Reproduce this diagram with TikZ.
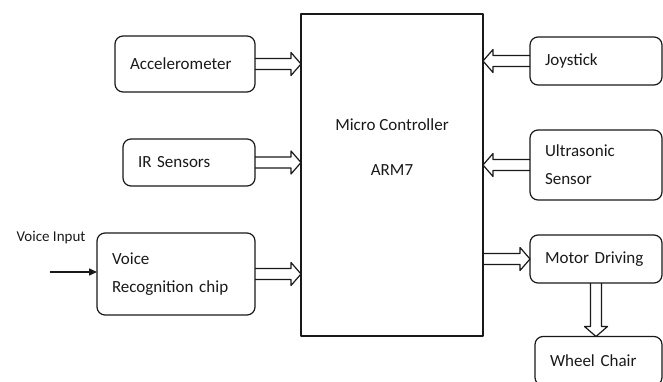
\documentclass[tikz,border=0pt]{standalone}
\usepackage{fontspec}
\setmainfont{Carlito}
\usetikzlibrary{arrows.meta,calc}
\definecolor{ChairInk}{gray}{0.1}
\tikzset{
    wc/diagram/.style={
        x=1pt, y=-1pt,
        font=\fontsize{17}{28}\selectfont,
        text=ChairInk,
        line join=round,
        every node/.style={inner sep=0pt, outer sep=0pt}
    },
    wc/block/.style={
        draw=ChairInk, line width=1.2pt, rounded corners=8pt,
        align=left, inner xsep=15pt, inner ysep=4pt
    },
    wc/mcu/.style={draw=ChairInk, line width=1.4pt},
    wc/fatarrow/.style={
        draw=ChairInk, line width=1.2pt,
        to path={
            ($(\tikztostart)!5.5pt!90:(\tikztotarget)$)
            -- ($(\tikztotarget)!10pt!(\tikztostart)!5.5pt!90:(\tikztotarget)$)
            -- ($(\tikztotarget)!10pt!(\tikztostart)!11.5pt!90:(\tikztotarget)$)
            -- (\tikztotarget)
            -- ($(\tikztotarget)!10pt!(\tikztostart)!11.5pt!-90:(\tikztotarget)$)
            -- ($(\tikztotarget)!10pt!(\tikztostart)!5.5pt!-90:(\tikztotarget)$)
            -- ($(\tikztostart)!5.5pt!-90:(\tikztotarget)$)
        }
    },
    wc/input/.style={
        draw=ChairInk, line width=1.5pt,
        -{Triangle[length=8pt, width=7pt]}
    }
}
\begin{document}
\begin{tikzpicture}[wc/diagram]
    \useasboundingbox (0,0) rectangle (663,382);
    % controller
    \node[wc/mcu, minimum width=182pt, minimum height=322pt] (mcu) at (392,175) {};
    \node[align=center] (mcutext) at (392,147.5) {Micro Controller\\[17pt]ARM7};
    % left column
    \node[wc/block, text width=110pt, minimum height=56pt] (acc) at (185,64) {Accelerometer};
    \node[wc/block, text width=102pt, minimum height=47pt] (ir) at (189,162.5) {IR Sensors};
    \node[wc/block, text width=128pt, minimum height=82pt] (voice) at (176,274) {Voice\\Recognition chip};
    \node[font=\fontsize{15}{18}\selectfont] (vinlabel) at (51,238) {Voice Input};
    \coordinate (vin) at (50,272);
    % right column
    \node[wc/block, text width=102pt, minimum height=48pt] (joy) at (596,61) {Joystick};
    \node[wc/block, text width=102pt, minimum height=70pt] (ultra) at (596,165) {Ultrasonic\\Sensor};
    \node[wc/block, text width=102pt, minimum height=48pt] (motor) at (596,259) {Motor Driving};
    \node[wc/block, text width=97pt, minimum height=49pt] (wheel) at (598.5,361) {Wheel Chair};
    % connections
    \draw[wc/input] (vin) -- (vin -| voice.west);
    \draw[wc/fatarrow] (acc.east) to (acc.east -| mcu.west);
    \draw[wc/fatarrow] (ir.east) to (ir.east -| mcu.west);
    \draw[wc/fatarrow] (voice.east) to (voice.east -| mcu.west);
    \draw[wc/fatarrow] (joy.west) to (joy.west -| mcu.east);
    \draw[wc/fatarrow] (ultra.west) to (ultra.west -| mcu.east);
    \draw[wc/fatarrow] (mcu.east |- motor.west) to (motor.west);
    \draw[wc/fatarrow] (motor.south) to (motor.south |- wheel.north);
\end{tikzpicture}
\end{document}
